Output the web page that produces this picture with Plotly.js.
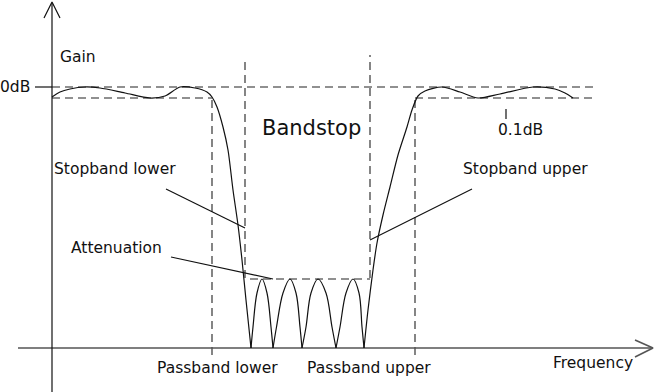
<!DOCTYPE html>
<html>
<head>
<meta charset="utf-8">
<script src="https://cdn.plot.ly/plotly-3.0.1.min.js"></script>
<style>
  html, body { margin: 0; padding: 0; background: #fff; }
  #chart { width: 654px; height: 392px; }
</style>
</head>
<body>
<div id="chart"></div>
<script>
// frequency / gain in drawing units, origin where the two axes cross
const leftBandF = [0, 8, 18, 33, 48, 73, 98, 113, 128, 143, 155, 160, 165, 171, 176, 181, 186, 190, 194, 199];
const leftBandG = [251, 256, 259, 261, 260, 255, 250, 252, 261, 260, 256, 251, 241, 221, 198, 158, 123, 88, 48, 0];

// stopband lobes, split by null so each arch keeps its pointed feet
const lobeF = [199, 201, 205, 210, 215, 219, 221, null,
               221, 224.5, 231, 238, 244, 248, 250, null,
               250, 254, 259, 266, 274, 280, 284, null,
               284, 288, 294, 301, 307, 310, 312];
const lobeG = [0, 21, 55, 69, 55, 21, 0, null,
               0, 21, 55, 69, 55, 21, 0, null,
               0, 21, 55, 69, 55, 21, 0, null,
               0, 21, 55, 69, 55, 21, 0];

const rightBandF = [312, 316, 321, 325, 331, 338, 346, 355, 360, 366, 373, 390, 408, 426, 448, 481, 503, 513, 521];
const rightBandG = [0, 38, 78, 105, 133, 161, 193, 221, 238, 252, 257, 261, 256, 250, 254, 261, 259, 255, 250];

// dashed guide lines (0dB, ripple floor, band edges, attenuation level)
const guideF = [0, 546, null, 0, 160, null, 363, 541, null,
                160, 160, null, 363, 363, null,
                193, 193, null, 318, 318, null, 198, 318];
const guideG = [261, 261, null, 250, 250, null, 250, 250, null,
                -7, 250, null, -7, 250, null,
                70, 290, null, 70, 293, null, 69, 69];

// axes with arrow heads
const yAxisF = [0, 0, null, -8, 0, 8];
const yAxisG = [-44, 345, null, 330, 346, 330];
const xAxisF = [-34, 600, null, 583, 601, 583];
const xAxisG = [0, 0, null, 8, 0, -9];

// leader lines and small ticks
const leaderF = [114, 193, null, 119, 221, null, 420, 318, null, -17, 0, null, 454, 454];
const leaderG = [159, 120, null, 91, 69, null, 159, 108, null, 261, 261, null, 239, 229];

const labels = ['Gain', '0dB', 'Bandstop', '0.1dB', 'Stopband lower', 'Stopband upper',
                'Attenuation', 'Passband lower', 'Passband upper', 'Frequency'];
const labelF = [6, -20, 259, 444, 0, 409, 17, 103, 253, 499];
const labelG = [291, 261, 220, 218, 179, 179, 100, -20, -20, -15];
const labelAnchor = ['left', 'right', 'center', 'left', 'left', 'left', 'left', 'left', 'left', 'left'];
const labelSize = [15.5, 15.5, 21, 15.5, 15.5, 15.5, 15.5, 15.5, 15.5, 15.5];

const ink = '#111';
const lineTrace = (x, y, extra) => Object.assign({
    x: x, y: y, type: 'scatter', mode: 'lines', hoverinfo: 'skip',
    line: { color: ink, width: 1.2 }
}, extra || {});

const traces = [
    lineTrace(guideF, guideG, { line: { color: '#222', width: 1.1, dash: '8px,5px' } }),
    lineTrace(xAxisF, xAxisG, { line: { color: '#555', width: 1.6 } }),
    lineTrace(yAxisF, yAxisG),
    lineTrace(leaderF, leaderG),
    lineTrace(leftBandF, leftBandG, { line: { color: ink, width: 1.2, shape: 'spline', smoothing: 0.8 } }),
    lineTrace(lobeF, lobeG, { line: { color: ink, width: 1.2, shape: 'spline', smoothing: 1 } }),
    lineTrace(rightBandF, rightBandG, { line: { color: ink, width: 1.2, shape: 'spline', smoothing: 0.8 } })
];

const annotations = labels.map((t, i) => ({
    text: t, x: labelF[i], y: labelG[i], xref: 'x', yref: 'y',
    xanchor: labelAnchor[i], yanchor: 'middle', showarrow: false,
    font: { size: labelSize[i], color: ink }
}));

const layout = {
    width: 654,
    height: 392,
    margin: { t: 0, r: 0, b: 0, l: 0 },
    paper_bgcolor: 'white',
    plot_bgcolor: 'white',
    font: { family: 'DejaVu Sans, sans-serif', color: ink },
    showlegend: false,
    xaxis: { range: [-52, 602], visible: false, fixedrange: true },
    yaxis: { range: [-44, 348], visible: false, fixedrange: true },
    annotations: annotations
};

Plotly.newPlot('chart', traces, layout, { displayModeBar: false, staticPlot: true });
</script>
</body>
</html>
